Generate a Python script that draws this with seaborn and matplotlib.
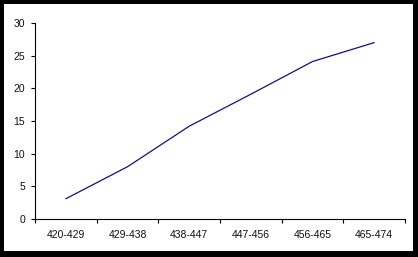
import matplotlib
matplotlib.use("Agg")
import matplotlib.pyplot as plt
import seaborn as sns
import pandas as pd
import numpy as np
from matplotlib.patches import Rectangle

categories = ["420-429", "429-438", "438-447", "447-456", "456-465", "465-474"]
values = [3.1, 8.0, 14.2, 19.1, 24.1, 27.0]
y_ticks = [0, 5, 10, 15, 20, 25, 30]

sns.set_style("white")
plt.rcParams['font.family'] = ['Liberation Sans', 'DejaVu Sans']

W, H = 418, 257
fig = plt.figure(figsize=(W / 100, H / 100), dpi=100)
fig.patch.set_facecolor("black")
fig.patches.append(Rectangle((4 / W, 6 / H), (W - 9) / W, (H - 10) / H,
                             transform=fig.transFigure, facecolor="white",
                             edgecolor="none", zorder=-10))

ax = fig.add_axes([35 / W, (H - 219) / H, 370 / W, 196 / H])
ax.set_facecolor("none")
ax.set_zorder(5)

df = pd.DataFrame({"cat": categories, "val": values})
sns.lineplot(data=df, x="cat", y="val", ax=ax, color="#10108a", linewidth=0.9, sort=False)

ax.set_xlim(-0.5, len(categories) - 0.5)
ax.set_ylim(0, 30)
ax.set_yticks(y_ticks)
ax.set_xlabel("")
ax.set_ylabel("")

# x ticks at category boundaries, labels at centers
ax.set_xticks(np.arange(-0.5, len(categories), 1.0))
ax.set_xticklabels([])
ax.set_xticks(np.arange(len(categories)), minor=True)
ax.set_xticklabels(categories, minor=True)
ax.tick_params(axis="x", which="major", direction="out", length=3, width=0.8, color="black", bottom=True)
ax.tick_params(axis="x", which="minor", length=0, pad=8, labelsize=7.5, labelcolor="#111111")
ax.tick_params(axis="y", direction="out", length=3, width=0.8, color="black", left=True,
               pad=4, labelsize=7.5, labelcolor="#111111")

for s in ["top", "right"]:
    ax.spines[s].set_visible(False)
for s in ["left", "bottom"]:
    ax.spines[s].set_color("black")
    ax.spines[s].set_linewidth(0.8)
ax.grid(False)

fig.savefig("out.png", dpi=100, facecolor=fig.get_facecolor())
